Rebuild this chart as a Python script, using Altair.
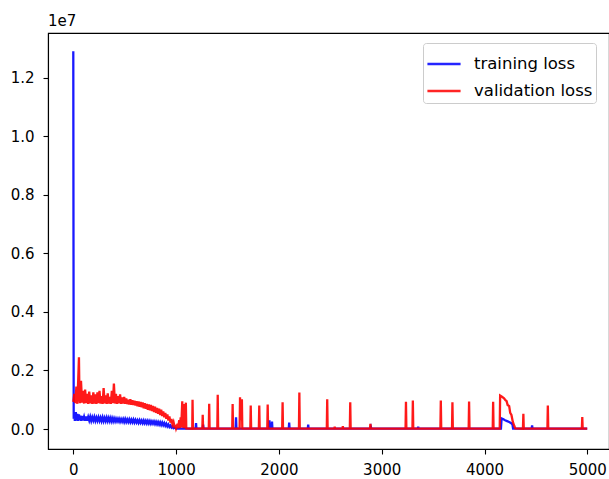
import altair as alt
import pandas as pd

# ---- data: (epoch, loss in millions) ----
train_points = [
    (0, 12.9), (4, 0.35), (10, 0.55), (15, 0.28), (25, 0.58), (30, 0.29), (40, 0.52), (45, 0.28),
    (55, 0.50), (60, 0.30), (70, 0.46), (75, 0.28), (85, 0.44), (95, 0.29), (105, 0.42), (115, 0.28),
    (125, 0.43), (135, 0.28), (145, 0.41), (155, 0.29), (165, 0.42), (175, 0.28), (185, 0.40),
    (195, 0.29), (205, 0.41), (215, 0.28), (225, 0.39), (235, 0.28), (245, 0.40), (255, 0.28),
    (265, 0.39), (275, 0.27), (285, 0.40), (295, 0.27), (305, 0.38), (315, 0.27), (325, 0.39),
    (335, 0.27), (345, 0.38), (355, 0.27), (365, 0.38), (375, 0.26), (385, 0.37), (395, 0.26),
    (405, 0.36), (415, 0.26), (425, 0.35), (435, 0.26), (445, 0.35), (455, 0.25), (465, 0.34),
    (475, 0.25), (485, 0.34), (495, 0.24), (505, 0.34), (515, 0.24), (525, 0.33), (535, 0.24),
    (545, 0.33), (555, 0.23), (565, 0.32), (575, 0.23), (585, 0.32), (595, 0.22), (605, 0.31),
    (615, 0.22), (625, 0.30), (635, 0.21), (645, 0.30), (655, 0.21), (665, 0.29), (675, 0.20),
    (685, 0.29), (695, 0.20), (705, 0.28), (715, 0.19), (725, 0.28), (735, 0.19), (745, 0.27),
    (755, 0.18), (765, 0.26), (775, 0.18), (785, 0.26), (795, 0.17), (805, 0.25), (815, 0.16),
    (825, 0.24), (835, 0.15), (845, 0.23), (855, 0.14), (865, 0.22), (875, 0.13), (885, 0.20),
    (895, 0.11), (905, 0.18), (915, 0.09), (925, 0.15), (935, 0.07), (945, 0.12), (955, 0.05),
    (965, 0.09), (975, 0.03), (985, 0.05), (995, 0.02), (1000, 0.01),
    (1190, 0.01), (1194, 0.20), (1198, 0.01), (1259, 0.01), (1263, 0.15), (1267, 0.01),
    (1579, 0.01), (1583, 0.40), (1587, 0.01), (1904, 0.01), (1908, 0.30), (1912, 0.01),
    (1929, 0.01), (1933, 0.25), (1937, 0.01), (2096, 0.01), (2100, 0.22), (2104, 0.01),
    (2281, 0.01), (2285, 0.15), (2289, 0.01), (2892, 0.01), (2896, 0.06), (2900, 0.01),
    (3351, 0.01), (3355, 0.08), (3359, 0.01), (4160, 0.01), (4166, 0.36), (4180, 0.34),
    (4200, 0.30), (4220, 0.27), (4240, 0.24), (4260, 0.20), (4272, 0.15), (4278, 0.01),
    (4459, 0.01), (4463, 0.12), (4467, 0.01), (4999, 0.01),
]

val_points = [
    (0, 0.93), (10, 1.20), (20, 0.88), (30, 1.45), (40, 0.86), (50, 1.90), (55, 2.45), (60, 1.10),
    (65, 0.88), (75, 1.65), (85, 0.90), (95, 1.30), (105, 0.87), (115, 1.35), (125, 0.88),
    (135, 1.20), (145, 0.86), (155, 1.28), (165, 0.88), (175, 1.15), (185, 0.86), (195, 1.25),
    (205, 0.87), (215, 1.18), (225, 0.86), (235, 1.25), (245, 0.88), (255, 1.30), (265, 0.87),
    (275, 1.12), (285, 0.86), (295, 1.40), (305, 0.88), (315, 1.15), (325, 0.86), (335, 1.22),
    (345, 0.87), (355, 1.10), (365, 0.86), (375, 1.30), (385, 0.88), (395, 1.55), (405, 0.87),
    (415, 1.20), (425, 0.86), (435, 1.12), (445, 0.88), (455, 1.18), (465, 0.86), (475, 1.08),
    (485, 0.87), (495, 1.10), (505, 0.86), (515, 1.04), (525, 0.85), (535, 1.00), (545, 0.84),
    (555, 1.02), (565, 0.83), (575, 0.98), (585, 0.82), (595, 0.97), (605, 0.80), (615, 0.95),
    (625, 0.78), (635, 0.94), (645, 0.76), (655, 0.92), (665, 0.74), (675, 0.91), (685, 0.71),
    (695, 0.88), (705, 0.69), (715, 0.86), (725, 0.66), (735, 0.84), (745, 0.64), (755, 0.82),
    (765, 0.61), (775, 0.79), (785, 0.58), (795, 0.76), (805, 0.55), (815, 0.72), (825, 0.52),
    (835, 0.69), (845, 0.48), (855, 0.66), (865, 0.44), (875, 0.60), (885, 0.40), (895, 0.55),
    (905, 0.35), (915, 0.50), (925, 0.29), (935, 0.43), (945, 0.22), (955, 0.34), (965, 0.15),
    (975, 0.24), (985, 0.08), (995, 0.10), (1000, 0.02),
    (1015, 0.18), (1020, 0.02), (1030, 0.30), (1035, 0.03), (1045, 0.40), (1050, 0.05),
    (1060, 0.95), (1064, 0.04), (1072, 0.85), (1076, 0.03), (1084, 0.50), (1088, 0.03),
    (1095, 0.90), (1099, 0.02), (1157, 0.01), (1160, 1.00), (1164, 0.01), (1255, 0.01),
    (1259, 0.49), (1263, 0.01), (1318, 0.01), (1322, 0.86), (1326, 0.01), (1401, 0.01),
    (1405, 1.17), (1409, 0.01), (1546, 0.01), (1550, 0.85), (1554, 0.01), (1618, 0.01),
    (1622, 1.08), (1628, 0.30), (1640, 1.02), (1644, 0.01), (1722, 0.01), (1726, 0.80),
    (1730, 0.01), (1805, 0.01), (1809, 0.80), (1813, 0.01), (1887, 0.01), (1891, 0.84),
    (1895, 0.01), (2032, 0.01), (2036, 0.91), (2040, 0.01), (2195, 0.01), (2199, 1.25),
    (2203, 0.01), (2466, 0.01), (2470, 1.02), (2474, 0.01), (2540, 0.01), (2543, 0.08),
    (2546, 0.01), (2619, 0.01), (2622, 0.10), (2625, 0.01), (2690, 0.01), (2694, 0.91),
    (2698, 0.01), (2886, 0.01), (2890, 0.18), (2894, 0.01), (3232, 0.01), (3236, 0.93),
    (3240, 0.01), (3299, 0.01), (3303, 0.97), (3307, 0.01), (3571, 0.01), (3575, 0.97),
    (3579, 0.01), (3684, 0.01), (3688, 0.91), (3692, 0.01), (3846, 0.01), (3850, 0.94),
    (3854, 0.01), (4080, 0.01), (4084, 0.93), (4088, 0.01), (4148, 0.01), (4152, 1.14),
    (4170, 1.10), (4190, 1.05), (4200, 1.00), (4215, 0.95), (4225, 0.82), (4240, 0.78),
    (4250, 0.55), (4262, 0.48), (4275, 0.25), (4290, 0.10), (4300, 0.02), (4374, 0.01),
    (4378, 0.52), (4382, 0.01), (4612, 0.01), (4616, 0.80), (4620, 0.01), (4947, 0.01),
    (4951, 0.41), (4955, 0.01), (4999, 0.01),
]

series_names = ["training loss", "validation loss"]
series_colors = ["#0000ff", "#ff0000"]
x_ticks = [0, 1000, 2000, 3000, 4000, 5000]
y_ticks = [0, 2e6, 4e6, 6e6, 8e6, 10e6, 12e6]

rows = []
for name, pts in zip(series_names, [train_points, val_points]):
    for i, (e, v) in enumerate(pts):
        rows.append({"epoch": e, "loss": v * 1e6, "series": name, "order": i})
df = pd.DataFrame(rows)

FONT = "DejaVu Sans"

lines = alt.Chart(df).mark_line(strokeWidth=2.3, opacity=0.9).encode(
    x=alt.X("epoch:Q", scale=alt.Scale(domain=[-246, 5211], nice=False, zero=False),
            axis=alt.Axis(values=x_ticks, format="d", title=None, labelPadding=8)),
    y=alt.Y("loss:Q", scale=alt.Scale(domain=[-683000, 13527000], nice=False, zero=False),
            axis=alt.Axis(values=y_ticks, labelExpr="format(datum.value / 1e7, '.1f')",
                          title=None, labelPadding=9)),
    color=alt.Color("series:N", scale=alt.Scale(domain=series_names, range=series_colors),
                    legend=alt.Legend(title=None, orient="none", legendX=375, legendY=10,
                                      fillColor="white", strokeColor="#cccccc", cornerRadius=3,
                                      padding=3, symbolType="stroke", symbolSize=1100,
                                      symbolStrokeWidth=2.5, symbolOpacity=0.85,
                                      labelFont=FONT, labelFontSize=16.5, labelColor="#000000",
                                      labelOffset=12, rowPadding=0)),
    order="order:Q",
)

offset_label = alt.Chart(pd.DataFrame({"t": ["1e7"]})).mark_text(
    align="left", baseline="bottom", font=FONT, fontSize=15, color="#000000"
).encode(x=alt.value(0), y=alt.value(-4), text="t:N")

chart = alt.layer(lines, offset_label).properties(
    width=561, height=416,
    autosize=alt.AutoSizeParams(type="none"),
    padding={"left": 48, "top": 33, "right": 0, "bottom": 30},
).configure_view(stroke="#000000", strokeWidth=1.1).configure_axis(
    grid=False, domainColor="#000000", domainWidth=1.1, tickColor="#000000", tickWidth=1.1,
    tickSize=5, labelFont=FONT, labelFontSize=15, labelColor="#000000",
)

chart.save("out.html", embed_options={"renderer": "svg", "actions": False})
